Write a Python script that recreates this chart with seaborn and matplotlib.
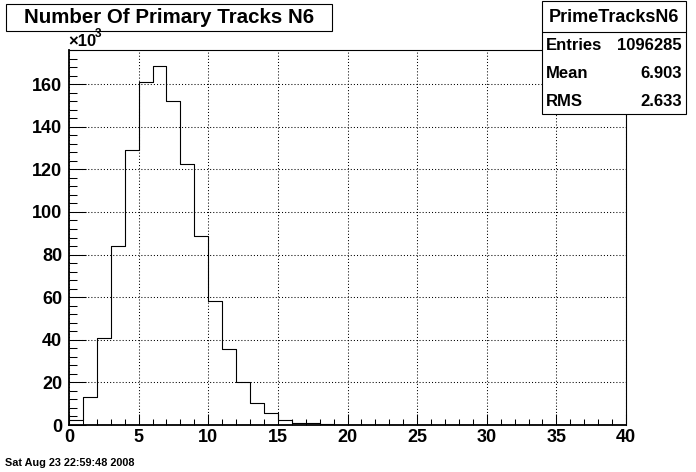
import numpy as np
import pandas as pd
import matplotlib
matplotlib.use('Agg')
import matplotlib.pyplot as plt
import seaborn as sns
from matplotlib.patches import Rectangle
from matplotlib.lines import Line2D
from matplotlib.ticker import MultipleLocator

# Histogram contents (counts in units of 10^3), bin width 1 from 0 to 40
bin_edges = list(range(0, 41))
bin_counts = [2.5, 13.3, 40.9, 83.9, 129.2, 160.8, 168.6, 152.0, 122.5, 88.9,
              58.1, 35.8, 20.0, 10.5, 5.5, 2.4, 1.1, 0.8, 0.3, 0.1,
              0.05, 0, 0, 0, 0, 0, 0, 0, 0, 0,
              0, 0, 0, 0, 0, 0, 0, 0, 0, 0]
x_ticks = [0, 5, 10, 15, 20, 25, 30, 35, 40]
y_ticks = [0, 20, 40, 60, 80, 100, 120, 140, 160]

title = 'Number Of Primary Tracks N6'
stats_name = 'PrimeTracksN6'
stats_rows = [('Entries', '1096285'), ('Mean', '6.903'), ('RMS', '2.633')]
date_text = 'Sat Aug 23 22:59:48 2008'

sns.set_theme(style='white')
plt.rcParams['font.family'] = ['Liberation Sans', 'DejaVu Sans']
plt.rcParams['text.color'] = 'black'
plt.rcParams['xtick.color'] = 'black'
plt.rcParams['ytick.color'] = 'black'
plt.rcParams['axes.edgecolor'] = 'black'

W, H = 696, 472
fig = plt.figure(figsize=(W / 100, H / 100), dpi=100)
fig.patch.set_facecolor('white')


def fx(x):
    return x / W


def fy(y):
    return 1 - y / H


# plot frame in pixels
left, right, top, bottom = 69, 626, 50, 425
ax = fig.add_axes([fx(left), fy(bottom), fx(right - left), (bottom - top) / H])

df = pd.DataFrame({'center': np.array(bin_edges[:-1]) + 0.5, 'count': bin_counts})
sns.histplot(data=df, x='center', weights='count', bins=bin_edges,
             element='step', fill=False, color='black', linewidth=0.8, ax=ax)

ax.set_xlim(0, 40)
ax.set_ylim(0, 176)
ax.set_xlabel('')
ax.set_ylabel('')
ax.set_xticks(x_ticks)
ax.set_yticks(y_ticks)
ax.xaxis.set_minor_locator(MultipleLocator(1))
ax.yaxis.set_minor_locator(MultipleLocator(4))
ax.grid(True, which='major', color='black', linestyle=(0, (1, 2)), linewidth=0.75)
ax.set_axisbelow(True)

ax.tick_params(axis='x', which='major', direction='in', length=8, width=0.75,
               labelsize=13, pad=3, bottom=True, top=False, labelcolor='black')
ax.tick_params(axis='x', which='minor', direction='in', length=4, width=0.75,
               bottom=True, top=False)
ax.tick_params(axis='y', which='major', direction='in', length=12, width=0.75,
               labelsize=13, pad=5, left=True, right=False, labelcolor='black')
ax.tick_params(axis='y', which='minor', direction='in', length=6, width=0.75,
               left=True, right=False)
for lab in ax.get_xticklabels() + ax.get_yticklabels():
    lab.set_fontweight('bold')

for s in ['left', 'bottom']:
    ax.spines[s].set_linewidth(1.3)
for s in ['top', 'right']:
    ax.spines[s].set_linewidth(0.8)

# x10^3 exponent label
fig.text(fx(68), fy(46), '\u00d710', fontsize=12, fontweight='bold', ha='left', va='baseline')
fig.text(fx(95), fy(37), '3', fontsize=8.5, fontweight='bold', ha='left', va='baseline')

# title box
fig.patches.append(Rectangle((fx(6), fy(31)), fx(326), (31 - 4) / H, transform=fig.transFigure,
                             facecolor='white', edgecolor='black', linewidth=0.8))
fig.text(fx(169), fy(17.5), title, fontsize=14.8, fontweight='bold', ha='center', va='center')

# stats box
bx0, bx1, by0, by1 = 542, 686, 1, 114
fig.patches.append(Rectangle((fx(bx0), fy(by1)), fx(bx1 - bx0), (by1 - by0) / H,
                             transform=fig.transFigure, facecolor='white',
                             edgecolor='black', linewidth=0.8, zorder=5))
fig.lines.append(Line2D([fx(bx0), fx(bx1)], [fy(32), fy(32)], transform=fig.transFigure,
                        color='black', linewidth=0.8, zorder=6))
fig.text(fx((bx0 + bx1) / 2), fy(17), stats_name, fontsize=13, fontweight='bold',
         ha='center', va='center', zorder=7)
for i, (name, val) in enumerate(stats_rows):
    yy = 46 + i * 28
    fig.text(fx(546), fy(yy), name, fontsize=12, fontweight='bold', ha='left', va='center', zorder=7)
    fig.text(fx(682), fy(yy), val, fontsize=12, fontweight='bold', ha='right', va='center', zorder=7)

fig.text(fx(5), fy(463), date_text, fontsize=7.8, fontweight='bold', ha='left', va='center')

fig.savefig('out.png', dpi=100)
